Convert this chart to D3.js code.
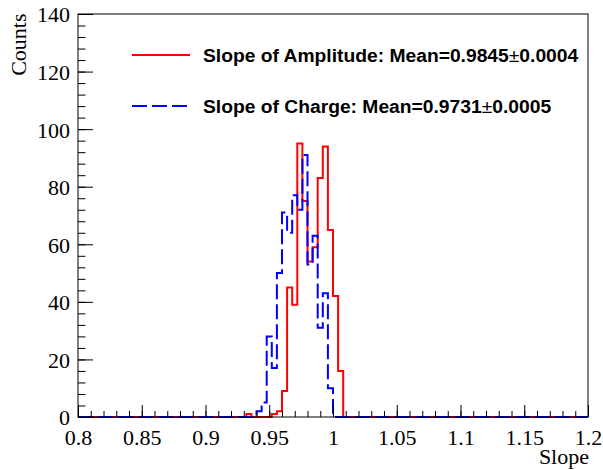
<!DOCTYPE html>
<html>
<head>
<meta charset="utf-8">
<script src="https://cdn.jsdelivr.net/npm/d3@7"></script>
<style>
  body { margin: 0; background: #fff; }
</style>
</head>
<body>
<div id="chart"></div>
<script>
// histogram bins: lower edge of each filled bin (bin width 0.004) and its count
let binWidth = 0.004;
let ampEdges  = [0.932, 0.952, 0.956, 0.960, 0.964, 0.968, 0.972, 0.976, 0.980, 0.984, 0.988, 0.992, 0.996, 1.000, 1.004];
let ampCounts = [1, 1, 2, 9, 45, 39, 95, 75, 54, 59, 83, 94, 65, 42, 16];
let chgEdges  = [0.940, 0.944, 0.948, 0.952, 0.956, 0.960, 0.964, 0.968, 0.972, 0.976, 0.980, 0.984, 0.988, 0.992, 0.996];
let chgCounts = [2, 5, 28, 17, 50, 71, 64, 77, 72, 91, 53, 63, 31, 43, 10];

let xTicks = [0.8, 0.85, 0.9, 0.95, 1.0, 1.05, 1.1, 1.15, 1.2];
let xTickLabels = ["0.8", "0.85", "0.9", "0.95", "1", "1.05", "1.1", "1.15", "1.2"];
let yTicks = [0, 20, 40, 60, 80, 100, 120, 140];

let legendLabels = [
    {name: "Slope of Amplitude: Mean=0.9845", err: "0.0004", color: "#ff0000", dash: null},
    {name: "Slope of Charge: Mean=0.9731", err: "0.0005", color: "#0000ff", dash: "15,5"}
];

let margin = {top: 14, right: 15, left: 78, bottom: 53};
let width = 603 - margin.left - margin.right;
let height = 470 - margin.top - margin.bottom;

let svg = d3.select("#chart")
    .append("svg")
    .attr("width", 603)
    .attr("height", 470);

let g = svg.append("g")
    .attr("transform", "translate(" + margin.left + "," + margin.top + ")");

let x = d3.scaleLinear().domain([0.8, 1.2]).range([0, width]);
let y = d3.scaleLinear().domain([0, 140]).range([height, 0]);

// outline of a histogram, running along zero over the whole axis
function stepPoints(edges, counts) {
    let pts = [[0.8, 0]];
    let prevEnd = 0.8, prevY = 0;
    edges.forEach((e, i) => {
        if (e > prevEnd + 1e-9) {
            pts.push([prevEnd, 0]);
            prevY = 0;
        }
        pts.push([e, prevY]);
        pts.push([e, counts[i]]);
        pts.push([e + binWidth, counts[i]]);
        prevEnd = e + binWidth;
        prevY = counts[i];
    });
    pts.push([prevEnd, 0]);
    pts.push([1.2, 0]);
    return pts;
}

let line = d3.line()
    .x(d => x(d[0]))
    .y(d => y(d[1]));

g.append("path")
    .attr("d", line(stepPoints(ampEdges, ampCounts)))
    .attr("fill", "none")
    .attr("stroke", "#ff0000")
    .attr("stroke-width", 2);

g.append("path")
    .attr("d", line(stepPoints(chgEdges, chgCounts)))
    .attr("fill", "none")
    .attr("stroke", "#0000ff")
    .attr("stroke-width", 2)
    .attr("stroke-dasharray", "15,5");

// frame
g.append("rect")
    .attr("x", 0)
    .attr("y", 0)
    .attr("width", width)
    .attr("height", height)
    .attr("fill", "none")
    .attr("stroke", "#000")
    .attr("stroke-width", 1);

// axes: major ticks with labels, minor ticks without
let xAxis = d3.axisBottom(x).tickValues(xTicks)
    .tickFormat((d, i) => xTickLabels[i])
    .tickSize(-12).tickSizeOuter(0).tickPadding(12);
let xMinor = d3.axisBottom(x).tickValues(d3.range(0, 41).map(i => 0.8 + i * 0.01))
    .tickFormat("").tickSize(-6).tickSizeOuter(0);
let yAxis = d3.axisLeft(y).tickValues(yTicks)
    .tickSize(-15).tickSizeOuter(0).tickPadding(8);
let yMinor = d3.axisLeft(y).tickValues(d3.range(0, 36).map(i => i * 4))
    .tickFormat("").tickSize(-7.5).tickSizeOuter(0);

[xMinor, xAxis].forEach(a => {
    g.append("g")
        .attr("transform", "translate(0," + height + ")")
        .call(a)
        .call(s => s.select(".domain").remove());
});
[yMinor, yAxis].forEach(a => {
    g.append("g")
        .call(a)
        .call(s => s.select(".domain").remove());
});

g.selectAll(".tick line").attr("stroke", "#000");
g.selectAll(".tick text")
    .attr("fill", "#000")
    .style("font-family", "'Liberation Serif', 'Times New Roman', serif")
    .style("font-size", "22px");
g.selectAll(".tick text").filter(function () { return this.getAttribute("dy") === "0.32em"; })
    .attr("dy", "0.36em");

// axis titles
svg.append("text")
    .attr("transform", "translate(26,13.5) rotate(-90)")
    .attr("text-anchor", "end")
    .style("font-family", "'Liberation Serif', serif")
    .style("font-size", "22px")
    .text("Counts");

svg.append("text")
    .attr("x", 589)
    .attr("y", 464)
    .attr("text-anchor", "end")
    .style("font-family", "'Liberation Serif', serif")
    .style("font-size", "22px")
    .text("Slope");

// legend
let legend = svg.selectAll(".legend")
    .data(legendLabels)
    .enter()
    .append("g")
    .attr("class", "legend")
    .attr("transform", (d, i) => "translate(0," + (55 + i * 51) + ")");

legend.append("line")
    .attr("x1", 132)
    .attr("x2", 190)
    .attr("stroke", d => d.color)
    .attr("stroke-width", 2)
    .attr("stroke-dasharray", d => d.dash);

let lt = legend.append("text")
    .attr("x", 203)
    .attr("y", 6.7)
    .style("font-family", "'Liberation Sans', Arial, sans-serif")
    .style("font-size", "19.25px")
    .style("font-weight", "bold");
lt.append("tspan").text(d => d.name);
lt.append("tspan").style("font-weight", "normal").text("\u00b1");
lt.append("tspan").text(d => d.err);
</script>
</body>
</html>
